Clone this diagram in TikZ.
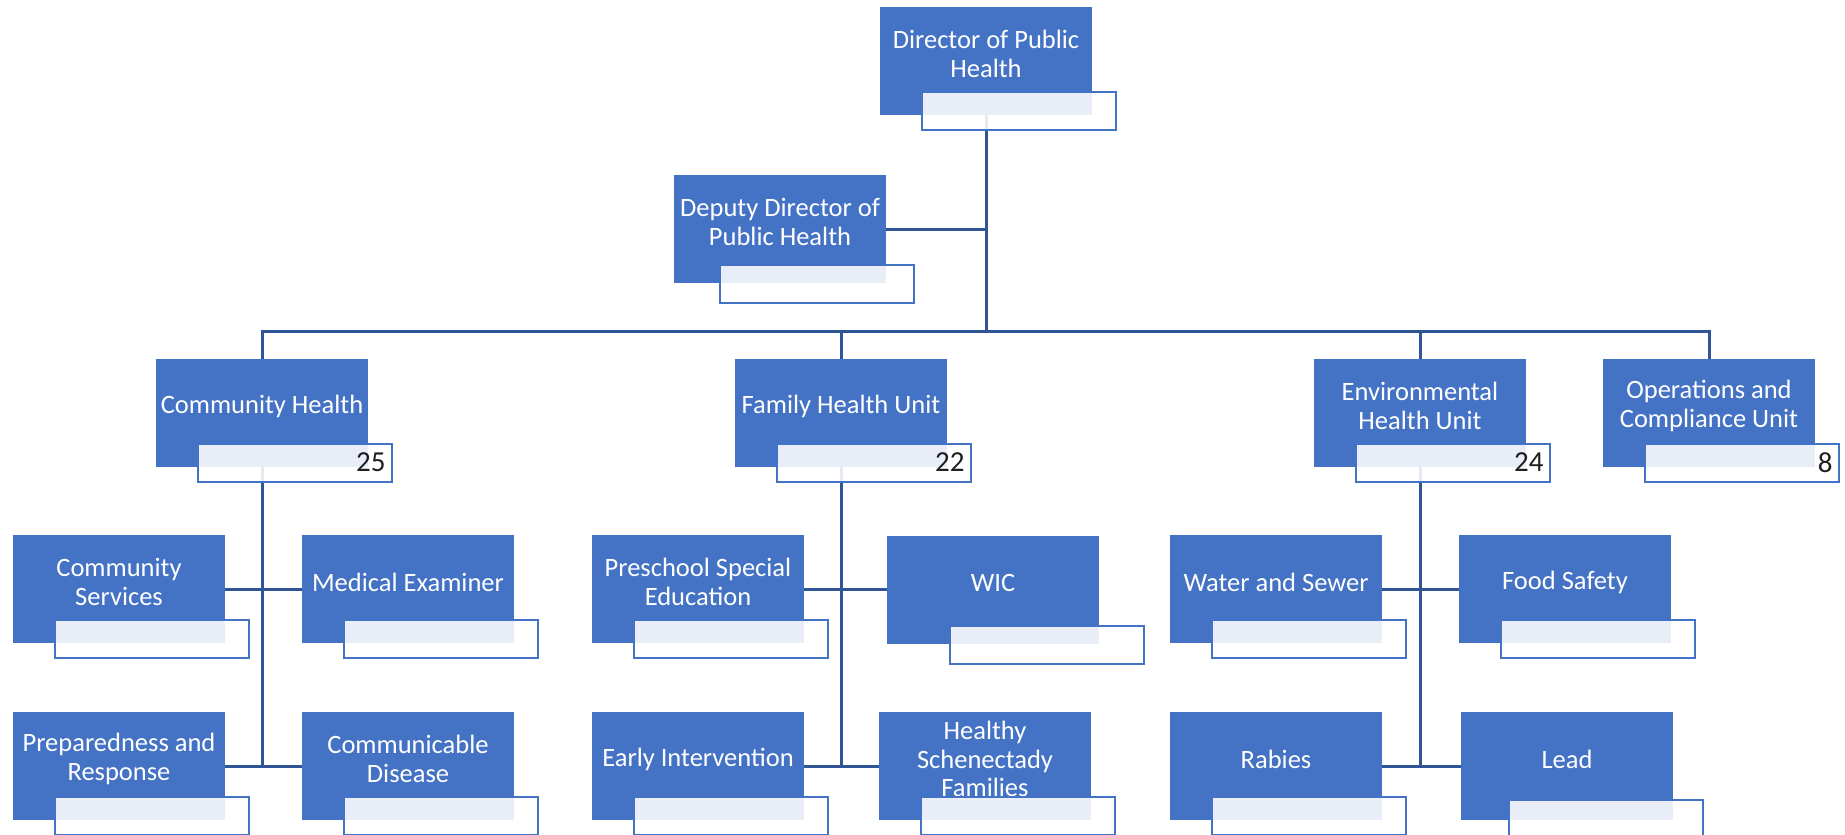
\documentclass[tikz,border=0pt]{standalone}
\usepackage{fontspec}
\setmainfont{Carlito}
\definecolor{boxblue}{HTML}{4472C4}
\definecolor{linkblue}{HTML}{2F5597}
\tikzset{
  unit/.style={fill=boxblue, minimum width=212pt, minimum height=108pt, inner sep=0pt},
  unitname/.style={text=white, align=center, yshift=7pt, font=\fontsize{26.5}{28.5}\selectfont},
  tag/.style={draw=boxblue, line width=2pt, fill=white, fill opacity=0.88, text=black,
    minimum width=194pt, minimum height=38pt, text width=182pt, align=right,
    inner xsep=6pt, inner ysep=0pt, font=\fontsize{29}{30}\selectfont},
  link/.style={draw=linkblue, line width=3pt}
}
\begin{document}
\begin{tikzpicture}[x=1pt,y=-1pt]
\useasboundingbox (0,0) rectangle (1845,835);

% boxes
\node[unit, label={[unitname]center:{Director of Public\\Health}}] (dir) at (986,61) {};
\node[unit, label={[unitname]center:{Deputy Director of\\Public Health}}] (dep) at (780,229) {};

\node[unit, label={[unitname]center:{Community Health}}] (ch) at (262,413) {};
\node[unit, label={[unitname]center:{Family Health Unit}}] (fh) at (841,413) {};
\node[unit, label={[unitname]center:{Environmental\\Health Unit}}] (eh) at (1420,413) {};
\node[unit, label={[unitname]center:{Operations and\\Compliance Unit}}] (oc) at (1709,413) {};

\node[unit, label={[unitname]center:{Community\\Services}}] (cs) at (119,589) {};
\node[unit, label={[unitname]center:{Medical Examiner}}] (me) at (408,589) {};
\node[unit, label={[unitname]center:{Preparedness and\\Response}}] (pr) at (119,766) {};
\node[unit, label={[unitname]center:{Communicable\\Disease}}] (cd) at (408,766) {};

\node[unit, label={[unitname]center:{Preschool Special\\Education}}] (ps) at (698,589) {};
\node[unit, label={[unitname]center:{WIC}}] (wic) at (993,590) {};
\node[unit, label={[unitname]center:{Early Intervention}}] (ei) at (698,766) {};
\node[unit, label={[unitname]center:{Healthy\\Schenectady\\Families}}] (hsf) at (985,766) {};

\node[unit, label={[unitname]center:{Water and Sewer}}] (ws) at (1276,589) {};
\node[unit, label={[unitname]center:{Food Safety}}] (fs) at (1565,589) {};
\node[unit, label={[unitname]center:{Rabies}}] (rab) at (1276,766) {};
\node[unit, label={[unitname]center:{Lead}}] (lead) at (1567,766) {};

% lines
\coordinate (bus) at (986,331);
\draw[link] (dir.south) -- (bus);
\draw[link] (dep.east) -- (dep.east -| bus);
\draw[link] (ch.north) |- (bus) -| (oc.north);
\draw[link] (fh.north) -- (fh.north |- bus);
\draw[link] (eh.north) -- (eh.north |- bus);

\draw[link] (ch.south) -- (ch.south |- pr.east);
\path[link] (cs) edge (me);
\path[link] (pr) edge (cd);

\draw[link] (fh.south) -- (fh.south |- ei.east);
\path[link] (ps) edge (ps -| wic.west);
\path[link] (ei) edge (hsf);

\draw[link] (eh.south) -- (eh.south |- rab.east);
\path[link] (ws) edge (fs);
\path[link] (rab) edge (rab -| lead.west);

% tags
\node[tag] (dirtag) at ([xshift=32.5pt,yshift=-49.5pt]dir) {};
\node[tag] (deptag) at ([xshift=37pt,yshift=-55pt]dep) {};
\node[tag] (chtag) at ([xshift=32.5pt,yshift=-49.5pt]ch) {25};
\node[tag] (fhtag) at ([xshift=32.5pt,yshift=-49.5pt]fh) {22};
\node[tag] (ehtag) at ([xshift=32.5pt,yshift=-49.5pt]eh) {24};
\node[tag] (octag) at ([xshift=32.5pt,yshift=-49.5pt]oc) {8};
\node[tag] (cstag) at ([xshift=32.5pt,yshift=-49.5pt]cs) {};
\node[tag] (metag) at ([xshift=32.5pt,yshift=-49.5pt]me) {};
\node[tag] (prtag) at ([xshift=32.5pt,yshift=-49.5pt]pr) {};
\node[tag] (cdtag) at ([xshift=32.5pt,yshift=-49.5pt]cd) {};
\node[tag] (pstag) at ([xshift=32.5pt,yshift=-49.5pt]ps) {};
\node[tag] (wictag) at ([xshift=54pt,yshift=-55pt]wic) {};
\node[tag] (eitag) at ([xshift=32.5pt,yshift=-49.5pt]ei) {};
\node[tag] (hsftag) at ([xshift=32.5pt,yshift=-49.5pt]hsf) {};
\node[tag] (wstag) at ([xshift=32.5pt,yshift=-49.5pt]ws) {};
\node[tag] (fstag) at ([xshift=32.5pt,yshift=-49.5pt]fs) {};
\node[tag] (rabtag) at ([xshift=32.5pt,yshift=-49.5pt]rab) {};
\node[tag] (leadtag) at ([xshift=39pt,yshift=-53pt]lead) {};
\end{tikzpicture}
\end{document}
